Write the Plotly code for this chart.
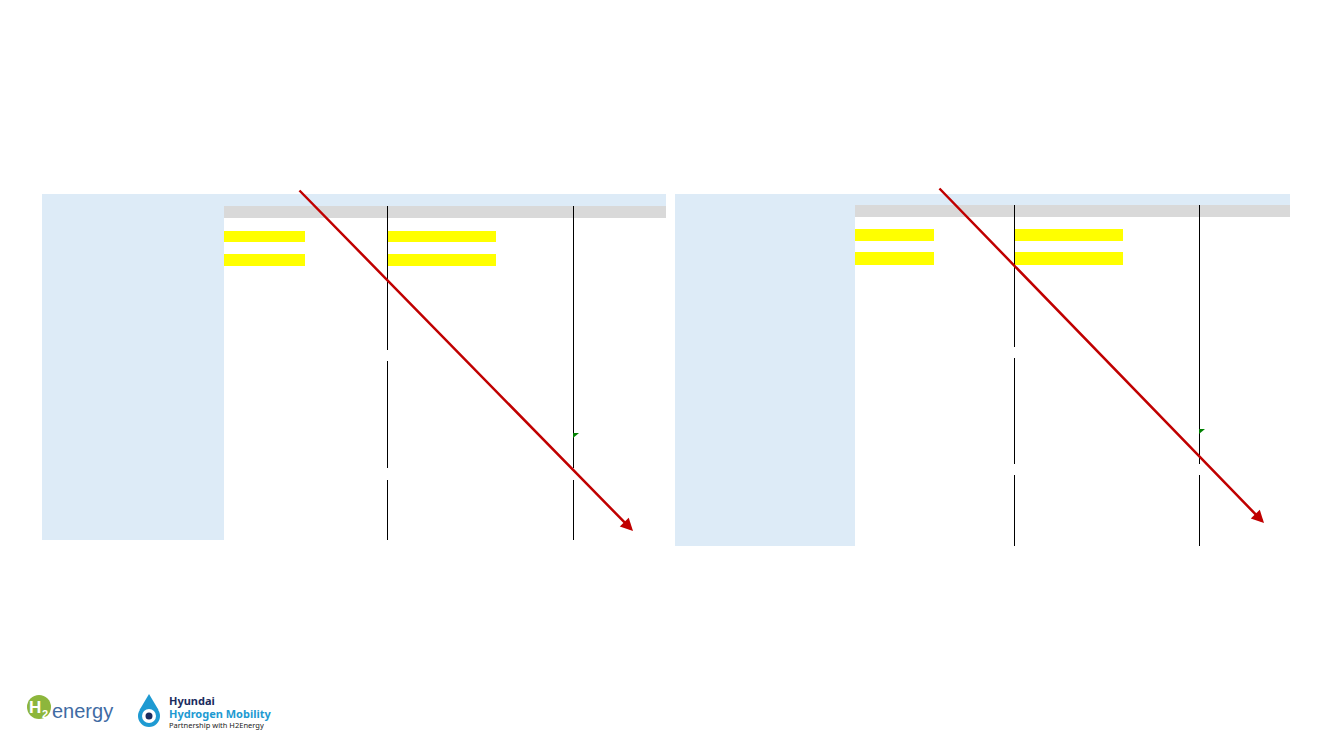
import plotly.graph_objects as go

# slide canvas in pixel units (y grows downward)
W, H = 1333, 750
PAGE_OFFSET = 8  # browser body margin

# left table: column edges and row edges
left_cols = [42, 224, 387, 573, 666]
left_rows = [194, 206, 218, 540]
left_yellow_rows = [(231, 242), (254, 266)]
left_yellow_cols = [(224, 305), (387, 496)]
left_line_gaps = {387: [(350, 361), (468, 480)], 573: [(468, 480)]}
left_flag = (573, 433)
left_arrow_x = [298, 633]
left_arrow_y = [189, 531]

# right table
right_cols = [675, 855, 1014, 1199, 1290]
right_rows = [194, 205, 217, 546]
right_yellow_rows = [(229, 241), (252, 265)]
right_yellow_cols = [(855, 934), (1015, 1123)]
right_line_gaps = {1014: [(347, 358), (464, 475)], 1199: [(464, 475)]}
right_flag = (1199, 429)
right_arrow_x = [938, 1264]
right_arrow_y = [187, 523]

BLUE = "#DDEBF7"
GRAY = "#D9D9D9"
YELLOW = "#FFFF00"
RED = "#C00000"

fig = go.Figure()


def rect(x0, y0, x1, y1, color):
    fig.add_shape(type="rect", xref="x", yref="y", x0=x0, y0=y0, x1=x1, y1=y1,
                  fillcolor=color, line=dict(width=0), layer="below")


def draw_table(cols, rows, yrows, ycols, gaps, flag, arrow_x, arrow_y):
    # light blue frame (top strip + first column)
    rect(cols[0], rows[0], cols[-1], rows[1], BLUE)
    rect(cols[0], rows[0], cols[1], rows[-1], BLUE)
    # grey header band
    rect(cols[1], rows[1], cols[-1], rows[2], GRAY)
    # yellow highlighted cells
    for y0, y1 in yrows:
        for x0, x1 in ycols:
            rect(x0, y0, x1, y1, YELLOW)
    # column dividers, broken where cells merge (+0.5 keeps them pixel-crisp)
    for x in cols[2:4]:
        ys = [rows[1]]
        for g0, g1 in gaps.get(x, []):
            ys += [g0, g1]
        ys.append(rows[-1])
        for i in range(0, len(ys), 2):
            fig.add_shape(type="line", xref="x", yref="y", x0=x + 0.5, x1=x + 0.5,
                          y0=ys[i], y1=ys[i + 1], line=dict(color="black", width=1))
    # small green cell-marker
    fx, fy = flag
    fig.add_shape(type="path", xref="x", yref="y",
                  path=f"M {fx},{fy} L {fx + 6},{fy} L {fx},{fy + 5} Z",
                  fillcolor="#008000", line=dict(width=0))
    # red arrow
    fig.add_annotation(x=arrow_x[1], y=arrow_y[1], ax=arrow_x[0], ay=arrow_y[0],
                       xref="x", yref="y", axref="x", ayref="y",
                       showarrow=True, arrowhead=2, arrowsize=1.0, arrowwidth=2.5,
                       arrowcolor=RED, text="")


draw_table(left_cols, left_rows, left_yellow_rows, left_yellow_cols,
           left_line_gaps, left_flag, left_arrow_x, left_arrow_y)
draw_table(right_cols, right_rows, right_yellow_rows, right_yellow_cols,
           right_line_gaps, right_flag, right_arrow_x, right_arrow_y)

# logos, bottom left
fig.add_shape(type="circle", xref="x", yref="y", x0=27, y0=695, x1=51, y1=719,
              fillcolor="#8DB63C", line=dict(width=0))
fig.add_annotation(x=35, y=707, showarrow=False, text="<b>H</b>",
                   font=dict(family="Liberation Sans", size=17, color="white"))
fig.add_annotation(x=45, y=714, showarrow=False, text="<b>2</b>",
                   font=dict(family="Liberation Sans", size=11, color="white"))
fig.add_annotation(x=50, y=711, xanchor="left", showarrow=False, text="energy",
                   font=dict(family="Liberation Sans", size=20, color="#3F6BA3"))

fig.add_shape(type="path", xref="x", yref="y",
              path="M 149,694 L 139.5,710 L 158.5,710 Z",
              fillcolor="#1E9AD2", line=dict(width=0))
fig.add_shape(type="circle", xref="x", yref="y", x0=138, y0=705, x1=160, y1=727,
              fillcolor="#1E9AD2", line=dict(width=0))
fig.add_shape(type="circle", xref="x", yref="y", x0=142, y0=709, x1=156, y1=723,
              fillcolor="white", line=dict(width=0))
fig.add_shape(type="circle", xref="x", yref="y", x0=145.5, y0=712.5, x1=152.5, y1=719.5,
              fillcolor="#1B2B5E", line=dict(width=0))
fig.add_annotation(x=167, y=700, text="<b>Hyundai</b>", showarrow=False, xanchor="left",
                   font=dict(family="Noto Sans", size=11, color="#1B2B5E"))
fig.add_annotation(x=167, y=713, text="<b>Hydrogen Mobility</b>", showarrow=False, xanchor="left",
                   font=dict(family="Noto Sans", size=11, color="#1E9AD2"))
fig.add_annotation(x=167, y=725, text="Partnership with H2Energy", showarrow=False, xanchor="left",
                   font=dict(family="Noto Sans", size=7.5, color="#222222"))

fig.update_xaxes(range=[PAGE_OFFSET, W + PAGE_OFFSET], visible=False, fixedrange=True)
fig.update_yaxes(range=[H + PAGE_OFFSET, PAGE_OFFSET], visible=False, fixedrange=True)
fig.update_layout(width=W, height=H, margin=dict(l=0, r=0, t=0, b=0),
                  plot_bgcolor="white", paper_bgcolor="white", showlegend=False)

fig.write_html("out.html")
